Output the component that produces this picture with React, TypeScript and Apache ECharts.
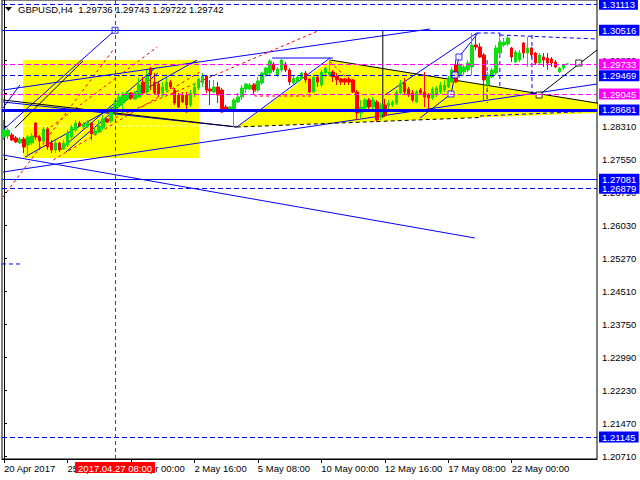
import React, { useEffect, useRef } from "react";
import * as echarts from "echarts";

const FONT = "Liberation Sans, Arial, sans-serif";

const symbolName = "GBPUSD,H4";
const slotCount = 150;
const xLabelIdx = [0, 16, 32, 48, 64, 80, 96, 112, 128];
const xLabels = ["20 Apr 2017", "25 Apr 08:00", "28 Apr 00:00", "2 May 16:00", "5 May 08:00", "10 May 00:00", "12 May 16:00", "17 May 08:00", "22 May 00:00"];
const yMin = 1.20641;
const yMax = 1.31212;
const yTicks = [1.2071, 1.2147, 1.2223, 1.2299, 1.2375, 1.2451, 1.2527, 1.2603, 1.2679, 1.2755, 1.2831, 1.2907, 1.2983, 1.3059];

// [open, close, low, high]
const candles: number[][] = [
  [1.28057, 1.28218, 1.27988, 1.28448], [1.28080, 1.28218, 1.28011, 1.28264], [1.28103, 1.27988, 1.27965, 1.28149], [1.28034, 1.27942, 1.27919, 1.28080],
  [1.27919, 1.28011, 1.27896, 1.28057], [1.28011, 1.27826, 1.27688, 1.28057], [1.27873, 1.28057, 1.27596, 1.28103], [1.27919, 1.28080, 1.27873, 1.28149],
  [1.28379, 1.28057, 1.27988, 1.28402], [1.28057, 1.27965, 1.27757, 1.28103], [1.27965, 1.28241, 1.27873, 1.28287], [1.28241, 1.27826, 1.27757, 1.28287],
  [1.27919, 1.27757, 1.27688, 1.27988], [1.27757, 1.27919, 1.27688, 1.27988], [1.27919, 1.27757, 1.27711, 1.27942], [1.27780, 1.27919, 1.27757, 1.27988],
  [1.27873, 1.28149, 1.27826, 1.28218], [1.28057, 1.28287, 1.27988, 1.28333], [1.28218, 1.28379, 1.28172, 1.28448], [1.28379, 1.28310, 1.28287, 1.28425],
  [1.28287, 1.28356, 1.28241, 1.28402], [1.28287, 1.28402, 1.28264, 1.28448], [1.28379, 1.28126, 1.27988, 1.28402], [1.28126, 1.28195, 1.28103, 1.28287],
  [1.28172, 1.28310, 1.28149, 1.28448], [1.28264, 1.28471, 1.28218, 1.28563], [1.28471, 1.28402, 1.28379, 1.28494], [1.28425, 1.28679, 1.28379, 1.28748],
  [1.28679, 1.28840, 1.28633, 1.28909], [1.28794, 1.28978, 1.28748, 1.29070], [1.28840, 1.29024, 1.28610, 1.29093], [1.28932, 1.29070, 1.28886, 1.29116],
  [1.29070, 1.28955, 1.28909, 1.29093], [1.28932, 1.29070, 1.28909, 1.29116], [1.28978, 1.29254, 1.28955, 1.29416], [1.29323, 1.29070, 1.29024, 1.29439],
  [1.29093, 1.29485, 1.29024, 1.29600], [1.29646, 1.29485, 1.29139, 1.29669], [1.29323, 1.29070, 1.29024, 1.29531], [1.29277, 1.29047, 1.28978, 1.29323],
  [1.29070, 1.29208, 1.28978, 1.29323], [1.29139, 1.29323, 1.29093, 1.29416], [1.29323, 1.29208, 1.29162, 1.29370], [1.29139, 1.28840, 1.28794, 1.29185],
  [1.29024, 1.28748, 1.28725, 1.29070], [1.29024, 1.28863, 1.28840, 1.29093], [1.29024, 1.28794, 1.28610, 1.29093], [1.28794, 1.29070, 1.28748, 1.29139],
  [1.29047, 1.29208, 1.28978, 1.29300], [1.29185, 1.29393, 1.29139, 1.29416], [1.29300, 1.29462, 1.29208, 1.29531], [1.29462, 1.29139, 1.29070, 1.29485],
  [1.29162, 1.29116, 1.28794, 1.29370], [1.29093, 1.29208, 1.29070, 1.29370], [1.29208, 1.29024, 1.28840, 1.29323], [1.29139, 1.28633, 1.28610, 1.29185],
  [1.28748, 1.28656, 1.28633, 1.28794], [1.28679, 1.28748, 1.28633, 1.28771], [1.28679, 1.28909, 1.28287, 1.28955], [1.28863, 1.28978, 1.28840, 1.29070],
  [1.28978, 1.29185, 1.28909, 1.29254], [1.29162, 1.29277, 1.29070, 1.29300], [1.29162, 1.29254, 1.29139, 1.29300], [1.29254, 1.29139, 1.29024, 1.29300],
  [1.29139, 1.29347, 1.29093, 1.29439], [1.29300, 1.29531, 1.29254, 1.29554], [1.29485, 1.29646, 1.29439, 1.29669], [1.29531, 1.29807, 1.29485, 1.29853],
  [1.29738, 1.29600, 1.29554, 1.29784], [1.29485, 1.29623, 1.29439, 1.29669], [1.29600, 1.29830, 1.29554, 1.29876], [1.29738, 1.29600, 1.29554, 1.29784],
  [1.29600, 1.29323, 1.29254, 1.29646], [1.29300, 1.29416, 1.29254, 1.29462], [1.29323, 1.29439, 1.29300, 1.29485], [1.29393, 1.29531, 1.29370, 1.29554],
  [1.29531, 1.29370, 1.29300, 1.29577], [1.29393, 1.29093, 1.29070, 1.29416], [1.29093, 1.29439, 1.29070, 1.29485], [1.29439, 1.29323, 1.29208, 1.29485],
  [1.29254, 1.29554, 1.29208, 1.29600], [1.29531, 1.29646, 1.29439, 1.29669], [1.29485, 1.29554, 1.29439, 1.29830], [1.29554, 1.29439, 1.29323, 1.29600],
  [1.29462, 1.29370, 1.29254, 1.29531], [1.29393, 1.29323, 1.29254, 1.29416], [1.29393, 1.29323, 1.29254, 1.29416], [1.29393, 1.29323, 1.29254, 1.29439],
  [1.29370, 1.29093, 1.29070, 1.29393], [1.29093, 1.28610, 1.28448, 1.29139], [1.28610, 1.28748, 1.28494, 1.28909], [1.28725, 1.28909, 1.28633, 1.28955],
  [1.28909, 1.28748, 1.28633, 1.28955], [1.28748, 1.28909, 1.28633, 1.28978], [1.28863, 1.28448, 1.28402, 1.28909], [1.28563, 1.28794, 1.28448, 1.28840],
  [1.28794, 1.28563, 1.28517, 1.28932], [1.28771, 1.28840, 1.28633, 1.28909], [1.28794, 1.28863, 1.28748, 1.28909], [1.28840, 1.29093, 1.28794, 1.29139],
  [1.29070, 1.29300, 1.29024, 1.29370], [1.29300, 1.29093, 1.29024, 1.29416], [1.29162, 1.29024, 1.28978, 1.29208], [1.29070, 1.28909, 1.28863, 1.29139],
  [1.28863, 1.29093, 1.28840, 1.29139], [1.29139, 1.29070, 1.29024, 1.29185], [1.29093, 1.28978, 1.28748, 1.29554], [1.29024, 1.28955, 1.28633, 1.29070],
  [1.28955, 1.29162, 1.28909, 1.29208], [1.29024, 1.29185, 1.28978, 1.29231], [1.29093, 1.29254, 1.29047, 1.29323], [1.29139, 1.29254, 1.29093, 1.29370],
  [1.29208, 1.29416, 1.29185, 1.29462], [1.29323, 1.29600, 1.29300, 1.29669], [1.29715, 1.29323, 1.29300, 1.29830], [1.29485, 1.29715, 1.29416, 1.29761],
  [1.29554, 1.29669, 1.29485, 1.29715], [1.29600, 1.29761, 1.29554, 1.29830], [1.29669, 1.30176, 1.29485, 1.30452], [1.30176, 1.30130, 1.30060, 1.30452],
  [1.30130, 1.29899, 1.29876, 1.30222], [1.29945, 1.29370, 1.28909, 1.29991], [1.29254, 1.29485, 1.29139, 1.29554], [1.29439, 1.29600, 1.29416, 1.29646],
  [1.29531, 1.30107, 1.29485, 1.30176], [1.29991, 1.30245, 1.29899, 1.30337], [1.30176, 1.30245, 1.30130, 1.30337], [1.30199, 1.30337, 1.30153, 1.30383],
  [1.30107, 1.29899, 1.29784, 1.30130], [1.29784, 1.30014, 1.29761, 1.30060], [1.29830, 1.29991, 1.29784, 1.30060], [1.30222, 1.29991, 1.29876, 1.30245],
  [1.29991, 1.30107, 1.29669, 1.30360], [1.30107, 1.29945, 1.29876, 1.30130], [1.29991, 1.29761, 1.29715, 1.30014], [1.29761, 1.29945, 1.29715, 1.29991],
  [1.29899, 1.29830, 1.29669, 1.29991], [1.29876, 1.29761, 1.29600, 1.29991], [1.29853, 1.29761, 1.29669, 1.29899], [1.29784, 1.29669, 1.29646, 1.29830],
  [1.29554, 1.29646, 1.29531, 1.29669], [1.29646, 1.29715, 1.29600, 1.29738], [1.29736, 1.29742, 1.29722, 1.29743],
];

// horizontal levels
const blueDashedLevels = [1.31113, 1.29469, 1.26879, 1.21145];
const blueSolidLevels = [1.30516, 1.27081];
const thickLevels = [1.28681];
const magentaLevels = [1.29733, 1.29045];

// vertical time line
const vlineIdx = 28;
const vlineLabel = "2017.04.27 08:00";

// drawn objects in (bar index, price)
const blueSolidSegs: number[][][] = [
  [[-0.25, 1.28218], [28, 1.30516]],
  [[-0.25, 1.29139], [107.4, 1.30544]],
  [[-0.25, 1.28863], [58.7, 1.28287]],
  [[-0.25, 1.27251], [149.5, 1.29277]],
  [[-0.25, 1.27642], [118.7, 1.25731]],
  [[-0.25, 1.28725], [4.0, 1.29254]],
  [[5.3, 1.27596], [48.7, 1.2983]],
  [[14.1, 1.27757], [38.1, 1.29646]],
  [[15.6, 1.27711], [38.8, 1.29531]],
  [[58.7, 1.28287], [82.2, 1.29876]],
  [[67.6, 1.29876], [82.9, 1.29876]],
  [[96.0, 1.29024], [119.2, 1.30452]],
  [[104.9, 1.28494], [112.7, 1.29047], [113.7, 1.29485], [114.7, 1.29899], [119.5, 1.30452]],
];
const blueDashedSegs: number[][][] = [
  [[119.2, 1.30452], [125.0, 1.30452]],
  [[125.0, 1.30406], [149.5, 1.30314]],
  [[125.0, 1.30452], [125.0, 1.29208]],
  [[133.1, 1.30406], [133.1, 1.28978]],
  [[121.8, 1.2983], [121.8, 1.2884]],
  [[120.0, 1.2854], [149.5, 1.28656]],
  [[-0.5, 1.25132], [4.5, 1.25132]],
];
const blackSolidSegs: number[][][] = [
  [[-0.25, 1.28909], [58.7, 1.28287]],
  [[2.8, 1.28264], [19.9, 1.29807]],
  [[82.2, 1.2983], [161.8, 1.28656]],
  [[95.5, 1.30498], [95.5, 1.28494]],
  [[134.9, 1.29024], [149.5, 1.3006]],
];
const blackDashedSegs: number[][][] = [
  [[58.7, 1.28287], [120.0, 1.28506]],
];
const redDashedSegs: number[][][] = [
  [[-0.25, 1.26675], [27.5, 1.3006]],
  [[5.8, 1.27873], [38.6, 1.3013]],
  [[12.4, 1.27527], [49.4, 1.29554]],
  [[26.7, 1.28448], [79.7, 1.30521]],
  [[63.3, 1.293], [63.3, 1.29001], [77.6, 1.29001]],
  [[82.2, 1.29784], [86.5, 1.29416]],
];
const blueSquares = [[28, 1.30516], [112.7, 1.29047], [113.7, 1.29485], [114.7, 1.29899]];
const blackSquares = [[134.9, 1.29024], [144.9, 1.29761]];
const yellowRect = [[4.8, 1.2983], [49.2, 1.27573]];
const yellowTri = [[58.7, 1.28287], [82.2, 1.2983], [161.8, 1.28656]];
const rectMidLevel = 1.2831;

export default function App() {
  const ref = useRef<HTMLDivElement>(null);
  useEffect(() => {
    if (!ref.current) return;
    const chart = echarts.init(ref.current, undefined, { renderer: "svg" });
    const categories = Array.from({ length: slotCount }, (_, i) => String(i));
    const txt = { fontFamily: FONT, fontSize: 9.5 };

    const seg = (pts: number[][], color: string, type: any, width = 1, z = 2) => ({
      type: "line",
      xAxisIndex: 1,
      yAxisIndex: 0,
      data: pts,
      symbol: "none",
      silent: true,
      clip: true,
      z,
      lineStyle: { color, type, width },
    });

    const levelItem = (v: number, color: string, type: any, width: number, bg: string) => ({
      yAxis: v,
      lineStyle: { color, type, width },
      label: {
        show: true,
        position: "end",
        distance: 2,
        formatter: v.toFixed(5),
        color: "#ffffff",
        backgroundColor: bg,
        padding: [1, 3, 0, 3],
        ...txt,
      },
    });

    const levels = [
      ...blueDashedLevels.map((v) => levelItem(v, "#0000ff", [5, 3], 1, "#0000ff")),
      ...blueSolidLevels.map((v) => levelItem(v, "#0000ff", "solid", 1, "#0000ff")),
      ...thickLevels.map((v) => levelItem(v, "#0000ff", "solid", 3, "#0000ff")),
      ...magentaLevels.map((v) => levelItem(v, "#ff00ff", [5, 3], 1, "#ff00ff")),
    ];

    const last = candles[candles.length - 1];
    const title = `${symbolName}  ${last[0].toFixed(5)} ${last[3].toFixed(5)} ${last[2].toFixed(5)} ${last[1].toFixed(5)}`;

    const option: any = {
      animation: false,
      backgroundColor: "#ffffff",
      grid: { left: 2, right: 43, top: 0, bottom: 21, show: true, borderColor: "#000", borderWidth: 1, backgroundColor: "#fff" },
      xAxis: [
        {
          type: "category",
          data: categories,
          boundaryGap: true,
          axisLine: { show: true, lineStyle: { color: "#000" } },
          axisTick: { show: true, alignWithLabel: true, length: 4, interval: (i: number) => xLabelIdx.includes(i), lineStyle: { color: "#000" } },
          axisLabel: {
            show: true,
            interval: (i: number) => xLabelIdx.includes(i),
            formatter: (_v: string, i: number) => xLabels[xLabelIdx.indexOf(i)] ?? "",
            align: "left",
            margin: 4,
            color: "#000",
            ...txt,
          },
          splitLine: { show: false },
        },
        { type: "value", min: -0.5, max: slotCount - 0.5, show: false },
      ],
      yAxis: {
        type: "value",
        position: "right",
        min: yMin,
        max: yMax,
        scale: true,
        axisLine: { show: true, lineStyle: { color: "#000" } },
        axisTick: { show: true, length: 3, customValues: yTicks, lineStyle: { color: "#000" } },
        axisLabel: { show: true, customValues: yTicks, formatter: (v: number) => v.toFixed(5), margin: 5, color: "#000", ...txt },
        splitLine: { show: false },
      },
      graphic: [
        { type: "polygon", shape: { points: [[5, 7], [12, 7], [8.5, 11]] }, style: { fill: "#000" }, z: 10 },
        { type: "text", left: 18, top: 4, style: { text: title, fill: "#000", ...txt, fontSize: 9.5 }, z: 10 },
      ],
      series: [
        {
          type: "custom",
          xAxisIndex: 1,
          yAxisIndex: 0,
          clip: true,
          silent: true,
          z: 1,
          data: [[0, 1.29]],
          renderItem: (_p: any, api: any) => {
            const a = api.coord(yellowRect[0]);
            const b = api.coord(yellowRect[1]);
            const tri = yellowTri.map((p) => api.coord(p));
            const m1 = api.coord([yellowRect[0][0], rectMidLevel]);
            const m2 = api.coord([yellowRect[1][0], rectMidLevel]);
            return {
              type: "group",
              children: [
                { type: "rect", shape: { x: a[0], y: a[1], width: b[0] - a[0], height: b[1] - a[1] }, style: { fill: "#ffff00" } },
                { type: "polygon", shape: { points: tri }, style: { fill: "#ffff00" } },
                { type: "line", shape: { x1: m1[0], y1: m1[1], x2: m2[0], y2: m2[1] }, style: { stroke: "#ffffd0", lineWidth: 1, lineDash: [4, 3] } },
              ],
            };
          },
        },
        {
          type: "line",
          xAxisIndex: 1,
          yAxisIndex: 0,
          data: [[-10, 1.25]],
          symbol: "none",
          clip: false,
          silent: true,
          z: 2,
          markLine: {
            silent: true,
            symbol: ["none", "none"],
            precision: 5,
            data: [
              ...levels,
              {
                xAxis: vlineIdx,
                lineStyle: { color: "#ff0000", type: [4, 3], width: 1 },
                label: {
                  show: true,
                  position: "start",
                  distance: 3,
                  formatter: vlineLabel,
                  color: "#ffffff",
                  backgroundColor: "#ff0000",
                  padding: [1, 3, 0, 3],
                  ...txt,
                },
              },
            ],
          },
        },
        ...blueSolidSegs.map((s) => seg(s, "#0000ff", "solid")),
        ...blueDashedSegs.map((s) => seg(s, "#0000ff", [4, 3])),
        ...blackSolidSegs.map((s) => seg(s, "#000000", "solid")),
        ...blackDashedSegs.map((s) => seg(s, "#000000", [4, 3])),
        ...redDashedSegs.map((s) => seg(s, "#ff0000", [3, 3])),
        {
          type: "candlestick",
          xAxisIndex: 0,
          yAxisIndex: 0,
          data: candles,
          barWidth: 3,
          z: 3,
          silent: true,
          itemStyle: { color: "#11dd11", color0: "#ff0000", borderColor: "#11dd11", borderColor0: "#ff0000", borderWidth: 1 },
        },
        {
          type: "scatter",
          xAxisIndex: 1,
          yAxisIndex: 0,
          data: blueSquares,
          symbol: "rect",
          symbolSize: 6,
          silent: true,
          z: 4,
          itemStyle: { color: "#ffffff", borderColor: "#0000ff", borderWidth: 1 },
        },
        {
          type: "scatter",
          xAxisIndex: 1,
          yAxisIndex: 0,
          data: blackSquares,
          symbol: "rect",
          symbolSize: 6,
          silent: true,
          z: 4,
          itemStyle: { color: "#ffffff", borderColor: "#000000", borderWidth: 1 },
        },
      ],
    };
    chart.setOption(option);
    return () => chart.dispose();
  }, []);
  return <div ref={ref} style={{ position: "fixed", left: 0, top: 0, width: 640, height: 480, background: "#fff" }} />;
}
